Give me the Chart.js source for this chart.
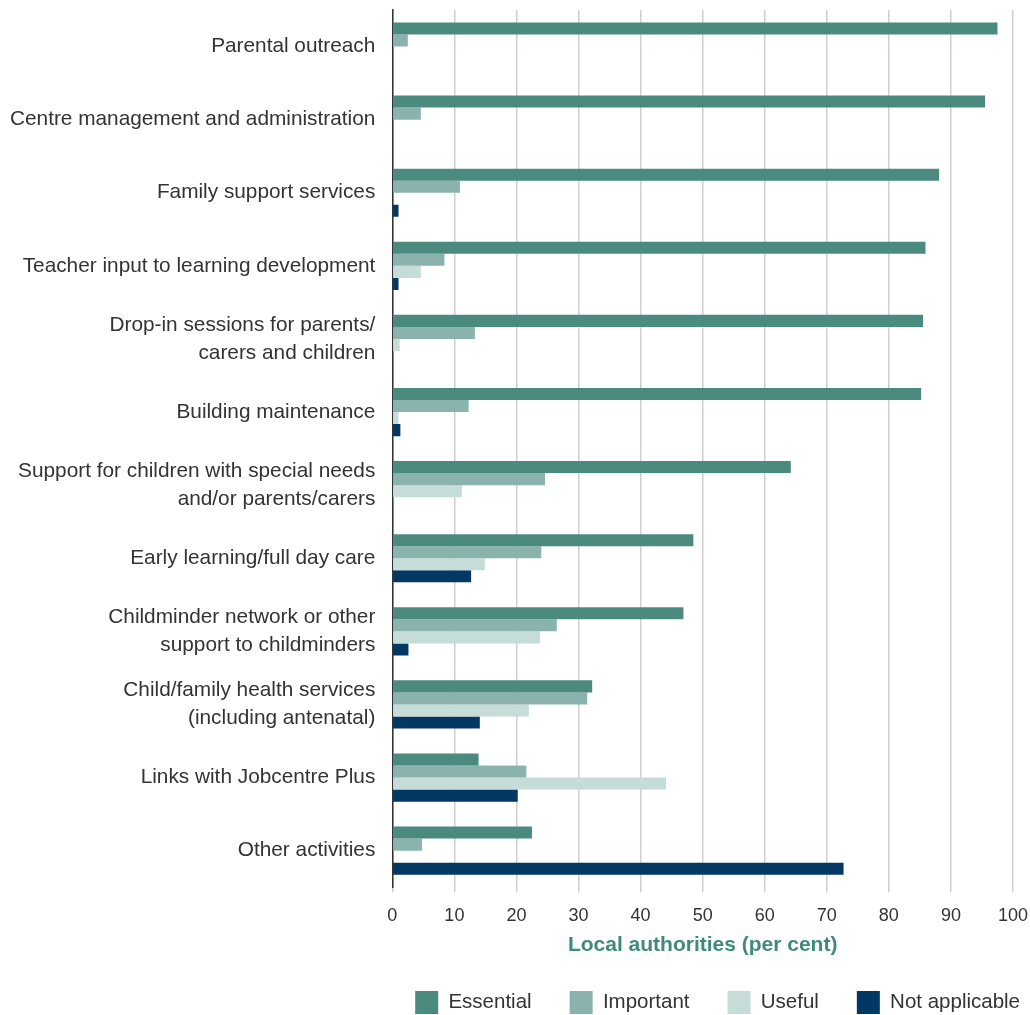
<!DOCTYPE html>
<html>
<head>
<meta charset="utf-8">
<script src="https://cdn.jsdelivr.net/npm/chart.js@4/dist/chart.umd.min.js"></script>
<style>
  html, body { margin: 0; padding: 0; background: #fff; }
  #wrap { width: 1030px; height: 1015px; }
</style>
</head>
<body>
<div id="wrap"><canvas id="chart"></canvas></div>
<script>
const categories = [
    "Parental outreach",
    "Centre management and administration",
    "Family support services",
    "Teacher input to learning development",
    ["Drop-in sessions for parents/", "carers and children"],
    "Building maintenance",
    ["Support for children with special needs", "and/or parents/carers"],
    "Early learning/full day care",
    ["Childminder network or other", "support to childminders"],
    ["Child/family health services", "(including antenatal)"],
    "Links with Jobcentre Plus",
    "Other activities"
];

const essential     = [97.5, 95.5, 88.1, 85.9, 85.5, 85.2, 64.2, 48.5, 46.9, 32.2, 13.9, 22.5];
const important     = [2.5, 4.6, 10.9, 8.4, 13.3, 12.3, 24.6, 24.0, 26.5, 31.4, 21.6, 4.8];
const useful        = [0, 0, 0, 4.6, 1.2, 1.0, 11.2, 14.9, 23.8, 22.0, 44.1, 0];
const notApplicable = [0, 0, 1.0, 1.0, 0, 1.3, 0, 12.7, 2.6, 14.1, 20.2, 72.7];

const xTicks = [0, 10, 20, 30, 40, 50, 60, 70, 80, 90, 100];

const font = "'Liberation Sans', Arial, sans-serif";
const textColor = '#333333';

// move the legend over to the right and up a little, like the original
const legendShift = {
    id: 'legendShift',
    afterLayout(chart) {
        const lg = chart.legend;
        if (!lg) return;
        lg.left += 45;
        lg.right += 45;
        lg.top -= 5;
        lg.bottom -= 5;
    }
};

new Chart(document.getElementById('chart'), {
    type: 'bar',
    data: {
        labels: categories,
        datasets: [
            { label: 'Essential', data: essential, backgroundColor: '#4b8b7f' },
            { label: 'Important', data: important, backgroundColor: '#8bb3ae' },
            { label: 'Useful', data: useful, backgroundColor: '#c5dcd8' },
            { label: 'Not applicable', data: notApplicable, backgroundColor: '#033864' }
        ]
    },
    plugins: [legendShift],
    options: {
        indexAxis: 'y',
        responsive: true,
        maintainAspectRatio: false,
        animation: false,
        datasets: {
            bar: { categoryPercentage: 0.66, barPercentage: 1.0 }
        },
        layout: { padding: { top: 10, right: 17, left: 10, bottom: -14 } },
        plugins: {
            tooltip: { enabled: false },
            legend: {
                position: 'bottom',
                align: 'end',
                labels: {
                    boxWidth: 23,
                    boxHeight: 23,
                    padding: 38,
                    color: textColor,
                    font: { family: font, size: 20.5 }
                }
            }
        },
        scales: {
            x: {
                min: 0,
                max: 100,
                afterBuildTicks: axis => { axis.ticks = xTicks.map(v => ({ value: v })); },
                afterFit: s => { s.paddingRight = 0; },
                grid: { color: '#cfcfcf', lineWidth: 1.5, tickLength: 5 },
                border: { display: false },
                ticks: { color: textColor, font: { family: font, size: 18 }, padding: 13 },
                title: {
                    display: true,
                    text: 'Local authorities (per cent)',
                    color: '#3f8a7b',
                    font: { family: font, size: 21, weight: 'bold' },
                    padding: { top: -7, bottom: 0 }
                }
            },
            y: {
                afterFit: s => { s.paddingTop = 0; s.paddingBottom = 0; },
                grid: { display: false, drawTicks: true, tickLength: 17 },
                border: { display: true, color: '#333333', width: 1.5 },
                ticks: {
                    color: textColor,
                    font: { family: font, size: 20.8, lineHeight: 1.35 },
                    padding: 0
                }
            }
        }
    }
});
</script>
</body>
</html>
